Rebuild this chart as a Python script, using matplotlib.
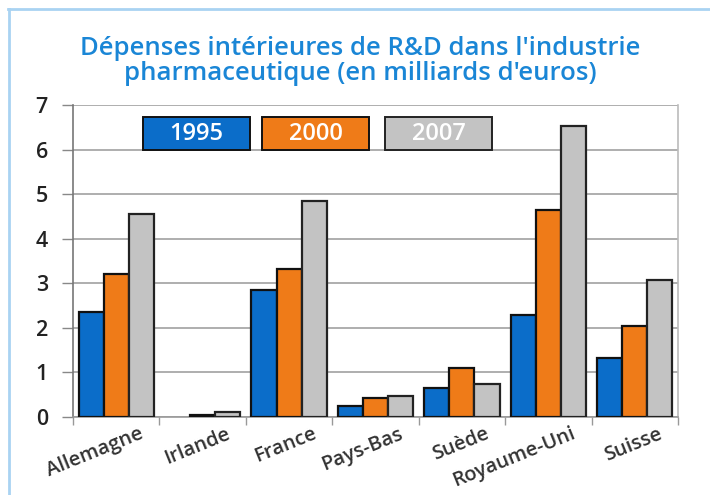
import matplotlib
matplotlib.use("Agg")
import matplotlib.pyplot as plt
from matplotlib.patches import Rectangle
from matplotlib.lines import Line2D
from matplotlib.transforms import ScaledTranslation
import numpy as np

plt.rcParams['font.family'] = ['Open Sans', 'DejaVu Sans']

categories = ["Allemagne", "Irlande", "France", "Pays-Bas", "Suède", "Royaume-Uni", "Suisse"]
series_names = ["1995", "2000", "2007"]
v1995 = [2.36, np.nan, 2.85, 0.25, 0.65, 2.29, 1.32]
v2000 = [3.20, 0.04, 3.33, 0.42, 1.10, 4.64, 2.04]
v2007 = [4.55, 0.12, 4.85, 0.48, 0.74, 6.53, 3.07]
yticks = [0, 1, 2, 3, 4, 5, 6, 7]
title = "Dépenses intérieures de R&D dans l'industrie\npharmaceutique (en milliards d'euros)"

colors = ["#0b6dc9", "#ef7b18", "#c3c3c3"]
edges = ["#111111", "#111111", "#222222"]

fig = plt.figure(figsize=(7.1, 4.95), dpi=100)
ax = fig.add_axes([73/710, 1-417/495, (678-73)/710, (417-105)/495])

x = np.arange(len(categories))
w = 0.29
for i, vals in enumerate([v1995, v2000, v2007]):
    ax.bar(x + (i-1)*w, vals, width=w, color=colors[i], edgecolor=edges[i], linewidth=1.6, zorder=3)

ax.set_xlim(-0.5, len(categories)-0.5)
ax.set_ylim(0, 7)
ax.set_yticks(yticks)
ax.set_yticklabels([str(t) for t in yticks], fontsize=15.5, color="#222222", fontweight='semibold')
ax.yaxis.grid(True, color="#a8a8a8", linewidth=1.3, zorder=0)
ax.set_axisbelow(True)
ax.tick_params(axis='y', length=8, width=1, color="#888888", pad=10)

ax.set_xticks(np.arange(len(categories)+1) - 0.5, minor=False)
ax.set_xticklabels([])
ax.tick_params(axis='x', which='major', length=6, width=1, color="#999999")
ax.set_xticks(x, minor=True)
ax.set_xticklabels(categories, minor=True, rotation=22, ha='right', va='top', rotation_mode='anchor',
                   fontsize=14.5, color="#333333", fontweight='semibold')
ax.tick_params(axis='x', which='minor', length=0, pad=5)
off = ScaledTranslation(23/100, 0, fig.dpi_scale_trans)
for lab in ax.get_xticklabels(minor=True):
    lab.set_transform(lab.get_transform() + off)

ax.spines['top'].set_visible(False)
ax.spines['right'].set_color("#bbbbbb")
ax.spines['right'].set_linewidth(1.2)
ax.spines['left'].set_color("#777777")
ax.spines['left'].set_linewidth(1.2)
ax.spines['bottom'].set_color("#999999")
ax.spines['bottom'].set_linewidth(1.2)

# legend boxes
lx = [0.116, 0.3124, 0.5157]
for i, name in enumerate(series_names):
    r = Rectangle((lx[i], 0.856), 0.177, 0.1055, transform=ax.transAxes,
                  facecolor=colors[i], edgecolor=edges[i], linewidth=1.4, zorder=5, clip_on=False)
    ax.add_patch(r)
    ax.text(lx[i] + 0.0885, 0.906, name, transform=ax.transAxes, ha='center', va='center',
            color='white', fontsize=17, fontweight='semibold', zorder=6)

fig.text(0.508, 1-61/495, title, ha='center', va='center', fontsize=18.5,
         color="#1a86d6", linespacing=1.0, fontweight='semibold')

# light blue frame
fig.add_artist(Line2D([8/710, 1], [1-9/495, 1-9/495], color="#a9d3f2", linewidth=2, transform=fig.transFigure))
fig.add_artist(Line2D([9/710, 9/710], [0, 1-9/495], color="#a9d3f2", linewidth=2, transform=fig.transFigure))

fig.savefig("out.png", dpi=100)
